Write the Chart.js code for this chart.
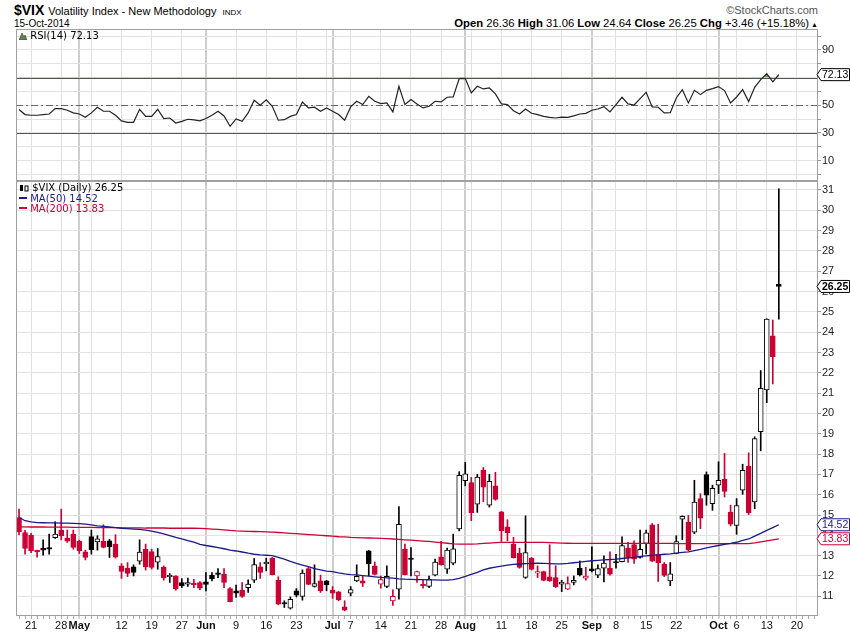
<!DOCTYPE html>
<html>
<head>
<meta charset="utf-8">
<script src="https://cdn.jsdelivr.net/npm/chart.js@4.4.1/dist/chart.umd.min.js"></script>
<style>
  body { margin: 0; background: #fff; width: 850px; height: 633px; overflow: hidden; position: relative; font-family: 'Liberation Sans', sans-serif; }
  .abs { position: absolute; white-space: nowrap; }
  canvas { position: absolute; left: 0; }
  .legend { font: 10px 'DejaVu Sans', sans-serif; line-height: 10.5px; }
</style>
</head>
<body>
<div class="abs" style="left:14px;top:2px;font-size:14px;font-weight:bold;">$VIX <span style="font-weight:normal;font-size:11px;">Volatility Index - New Methodology&nbsp; <span style="font-size:8px;">INDX</span></span></div>
<div class="abs" style="left:14px;top:18px;font-size:10px;">15-Oct-2014</div>
<div class="abs" style="right:32px;top:4px;font-size:11px;color:#555;">&copy;StockCharts.com</div>
<div class="abs" style="right:32px;top:17px;font-size:11.3px;"><b>Open</b> 26.36 <b>High</b> 31.06 <b>Low</b> 24.64 <b>Close</b> 26.25 <b>Chg</b> +3.46 (+15.18%)<span style="font-size:7px;"> &#9650;</span></div>

<canvas id="rsiChart" width="850" height="152" style="top:29px;"></canvas>
<canvas id="priceChart" width="850" height="452" style="top:181px;"></canvas>

<div class="abs legend" style="left:19px;top:31px;"><svg width="8" height="8" style="vertical-align:-1px"><polygon points="0,8 3,1 5,5 6,3 8,8" fill="#5a8a4a" stroke="#333" stroke-width="0.6"/></svg> RSI(14) 72.13</div>
<div class="abs legend" style="left:19px;top:183px;"><svg width="10" height="8" style="vertical-align:-1px"><rect x="1" y="1" width="3" height="6" fill="#000"/><rect x="6" y="2" width="3" height="5" fill="#fff" stroke="#000" stroke-width="1"/></svg> $VIX (Daily) 26.25</div>
<div class="abs legend" style="left:19px;top:194px;color:#1a1a8a;"><span style="display:inline-block;width:8px;height:2px;background:#1a1a8a;vertical-align:3px"></span> MA(50) 14.52</div>
<div class="abs legend" style="left:19px;top:204px;color:#cc0033;"><span style="display:inline-block;width:8px;height:2px;background:#cc0033;vertical-align:3px"></span> MA(200) 13.83</div>

<script>
// trading days 16-Apr-2014 .. 15-Oct-2014, then empty days to the right edge
const dates = [
  '4/16','4/17',
  '4/21','4/22','4/23','4/24','4/25',
  '4/28','4/29','4/30','5/1','5/2',
  '5/5','5/6','5/7','5/8','5/9',
  '5/12','5/13','5/14','5/15','5/16',
  '5/19','5/20','5/21','5/22','5/23',
  '5/27','5/28','5/29','5/30',
  '6/2','6/3','6/4','6/5','6/6',
  '6/9','6/10','6/11','6/12','6/13',
  '6/16','6/17','6/18','6/19','6/20',
  '6/23','6/24','6/25','6/26','6/27',
  '6/30','7/1','7/2','7/3',
  '7/7','7/8','7/9','7/10','7/11',
  '7/14','7/15','7/16','7/17','7/18',
  '7/21','7/22','7/23','7/24','7/25',
  '7/28','7/29','7/30','7/31','8/1',
  '8/4','8/5','8/6','8/7','8/8',
  '8/11','8/12','8/13','8/14','8/15',
  '8/18','8/19','8/20','8/21','8/22',
  '8/25','8/26','8/27','8/28','8/29',
  '9/2','9/3','9/4','9/5',
  '9/8','9/9','9/10','9/11','9/12',
  '9/15','9/16','9/17','9/18','9/19',
  '9/22','9/23','9/24','9/25','9/26',
  '9/29','9/30','10/1','10/2','10/3',
  '10/6','10/7','10/8','10/9','10/10',
  '10/13','10/14','10/15',
  '10/16','10/17','10/20','10/21','10/22','10/23'
];

const prevClose = 15.61;

const opens = [
  14.88, 14.14,
  14.00, 13.25, 13.37, 13.39, 13.89,
  14.26, 13.86, 14.06, 13.70, 13.19,
  13.94, 13.68, 13.70, 13.73, 13.57,
  12.50, 12.38, 12.45, 12.73, 13.32,
  13.20, 12.68, 12.42, 11.96, 12.00,
  11.68, 11.60, 11.64, 11.68,
  11.71, 12.04, 12.14, 12.09, 11.38,
  11.27, 11.30, 11.43, 11.79, 12.45,
  12.60, 12.88, 11.79, 10.68, 10.41,
  11.27, 10.99, 12.37, 11.48, 11.76,
  11.76, 11.30, 11.22, 10.48,
  11.15, 11.76, 11.76, 13.24, 12.50,
  11.60, 11.48, 10.77, 11.35, 13.32,
  12.88, 12.00, 11.56, 11.48, 12.04,
  12.94, 12.34, 12.63, 14.31, 16.69,
  16.60, 15.54, 17.21, 15.49, 16.44,
  15.16, 14.42, 13.57, 13.11, 11.93,
  12.88, 12.14, 12.22, 11.96, 11.92,
  11.60, 11.35, 11.68, 12.38, 11.89,
  12.35, 12.04, 12.38, 12.38,
  12.70, 12.71, 13.37, 13.54, 12.91,
  13.60, 14.52, 13.07, 12.58, 11.76,
  13.11, 14.80, 14.65, 14.16, 15.81,
  16.99, 15.56, 16.47, 16.76, 15.15,
  14.49, 16.22, 17.40, 15.64, 19.10,
  21.16, 23.82, 26.36
];
const highs = [
  15.29, 14.25,
  14.10, 13.28, 13.78, 14.06, 14.67,
  15.29, 14.26, 14.26, 13.76, 13.27,
  14.26, 13.98, 14.52, 13.80, 14.03,
  12.61, 12.66, 12.55, 13.78, 13.57,
  13.32, 13.35, 12.50, 12.12, 12.02,
  11.87, 11.90, 11.84, 11.72,
  12.17, 12.17, 12.37, 12.37, 11.43,
  11.55, 11.68, 11.81, 12.86, 12.66,
  12.88, 12.91, 11.96, 10.78, 10.97,
  11.38, 12.30, 12.42, 12.55, 12.04,
  11.78, 11.48, 11.24, 10.78,
  11.48, 12.55, 12.00, 13.26, 12.69,
  12.00, 12.50, 11.32, 15.41, 13.57,
  13.40, 12.24, 11.84, 12.00, 12.83,
  13.70, 13.37, 14.06, 17.13, 17.59,
  16.85, 17.00, 17.34, 17.00, 17.10,
  15.18, 14.77, 13.90, 13.37, 14.96,
  12.91, 12.50, 12.24, 13.54, 12.50,
  11.79, 11.96, 12.00, 12.74, 12.42,
  13.43, 12.55, 12.99, 13.19,
  13.07, 13.93, 13.65, 13.73, 14.26,
  14.26, 14.58, 14.55, 12.66, 12.66,
  13.98, 14.96, 14.98, 16.71, 16.05,
  17.12, 16.47, 17.62, 18.03, 15.48,
  15.81, 17.50, 18.06, 18.85, 22.11,
  24.66, 24.60, 31.06
];
const lows = [
  14.03, 13.07,
  13.15, 12.92, 13.02, 13.07, 13.85,
  13.78, 13.65, 13.32, 13.11, 12.79,
  13.07, 13.27, 13.38, 12.91, 12.88,
  11.88, 11.97, 12.00, 12.58, 12.29,
  12.34, 12.33, 11.79, 11.68, 11.30,
  11.43, 11.48, 11.43, 11.33,
  11.27, 11.76, 11.92, 11.43, 10.72,
  10.94, 10.94, 11.19, 11.68, 11.88,
  12.25, 12.05, 10.58, 10.45, 10.37,
  10.97, 10.81, 11.57, 11.45, 11.19,
  11.27, 10.90, 10.78, 10.28,
  11.02, 11.72, 11.48, 12.00, 12.05,
  11.40, 11.43, 10.55, 10.86, 12.05,
  12.00, 11.68, 11.40, 11.43, 12.00,
  12.53, 12.13, 12.55, 14.22, 16.44,
  14.72, 15.13, 15.66, 15.39, 15.73,
  13.70, 13.73, 12.88, 12.38, 11.88,
  12.29, 11.92, 11.76, 11.73, 11.43,
  11.23, 11.33, 11.56, 12.00, 11.79,
  12.20, 11.92, 11.71, 12.04,
  12.38, 12.69, 12.67, 12.62, 12.88,
  13.08, 12.71, 11.73, 11.97, 11.52,
  13.09, 13.78, 13.25, 14.08, 14.33,
  15.48, 15.23, 16.05, 15.89, 14.46,
  14.05, 16.02, 15.02, 15.31, 18.16,
  20.53, 21.45, 24.64
];
const closes = [
  14.18, 13.36,
  13.25, 13.19, 13.27, 13.32, 14.06,
  13.97, 13.71, 13.41, 13.25, 12.91,
  13.29, 13.83, 13.40, 13.43, 12.92,
  12.23, 12.13, 12.17, 13.17, 12.44,
  12.42, 12.96, 11.91, 12.03, 11.36,
  11.51, 11.68, 11.57, 11.40,
  11.58, 11.87, 12.08, 11.68, 10.73,
  11.15, 10.99, 11.60, 12.56, 12.18,
  12.68, 12.06, 10.61, 10.62, 10.85,
  11.05, 12.14, 11.59, 11.63, 11.26,
  11.57, 11.15, 10.82, 10.32,
  11.33, 11.98, 11.65, 12.59, 12.08,
  11.82, 11.98, 11.00, 14.54, 12.06,
  12.81, 12.22, 11.52, 11.84, 12.69,
  12.56, 13.28, 13.33, 16.95, 17.03,
  15.12, 16.87, 16.37, 16.66, 15.77,
  14.23, 14.13, 12.90, 12.42, 13.15,
  12.32, 12.21, 11.78, 11.76, 11.47,
  11.70, 11.63, 11.79, 12.05, 11.99,
  12.25, 12.36, 12.64, 12.09,
  12.64, 13.50, 12.88, 12.83, 13.31,
  14.12, 12.73, 12.65, 12.03, 12.11,
  13.69, 14.93, 13.27, 15.64, 14.85,
  15.98, 16.31, 16.71, 16.16, 14.55,
  15.46, 17.20, 15.11, 18.76, 21.24,
  24.64, 22.79, 26.25
];

const ma50 = [
  14.88, 14.72,
  14.66, 14.63, 14.62, 14.61, 14.61,
  14.60, 14.60, 14.59, 14.58, 14.55,
  14.51, 14.47, 14.44, 14.41, 14.38,
  14.35, 14.33, 14.31, 14.29, 14.26,
  14.21, 14.15, 14.07, 13.99, 13.90,
  13.82, 13.74, 13.67, 13.56,
  13.50, 13.45, 13.40, 13.34, 13.27,
  13.23, 13.18, 13.12, 13.07, 13.04,
  13.02, 13.00, 12.92, 12.83, 12.72,
  12.62, 12.54, 12.46, 12.36, 12.30,
  12.24, 12.21, 12.15, 12.10,
  12.07, 12.05, 12.02, 11.99, 11.96,
  11.93, 11.91, 11.89, 11.86, 11.84,
  11.83, 11.82, 11.82, 11.81, 11.81,
  11.80, 11.80, 11.82, 11.88, 11.98,
  12.08, 12.18, 12.30, 12.38, 12.44,
  12.49, 12.53, 12.57, 12.59, 12.61,
  12.62, 12.63, 12.62, 12.61, 12.60,
  12.60, 12.62, 12.65, 12.68, 12.72,
  12.75, 12.77, 12.79, 12.81,
  12.83, 12.86, 12.89, 12.92, 12.96,
  12.99, 13.02, 13.04, 13.07, 13.09,
  13.12, 13.16, 13.19, 13.25, 13.31,
  13.38, 13.44, 13.50, 13.55, 13.60,
  13.66, 13.75, 13.82, 13.96, 14.10,
  14.24, 14.38, 14.52
];
const ma200 = [
  14.42, 14.42,
  14.41, 14.41, 14.41, 14.40, 14.40,
  14.40, 14.40, 14.39, 14.39, 14.39,
  14.39, 14.38, 14.38, 14.38, 14.38,
  14.37, 14.37, 14.37, 14.37, 14.36,
  14.36, 14.36, 14.36, 14.35, 14.35,
  14.35, 14.35, 14.35, 14.34,
  14.33, 14.31, 14.29, 14.27, 14.24,
  14.22, 14.21, 14.20, 14.19, 14.18,
  14.17, 14.16, 14.14, 14.12, 14.10,
  14.08, 14.06, 14.04, 14.02, 14.00,
  13.98, 13.96, 13.93, 13.92,
  13.90, 13.89, 13.88, 13.87, 13.86,
  13.85, 13.84, 13.82, 13.80, 13.78,
  13.76, 13.74, 13.72, 13.70, 13.67,
  13.64, 13.61, 13.58, 13.57, 13.57,
  13.57, 13.58, 13.60, 13.62, 13.64,
  13.65, 13.65, 13.65, 13.65, 13.65,
  13.65, 13.65, 13.65, 13.64, 13.63,
  13.62, 13.61, 13.60, 13.60, 13.60,
  13.60, 13.60, 13.60, 13.60,
  13.60, 13.60, 13.60, 13.60, 13.60,
  13.60, 13.60, 13.60, 13.60, 13.60,
  13.59, 13.59, 13.59, 13.59, 13.59,
  13.59, 13.59, 13.59, 13.59, 13.59,
  13.59, 13.59, 13.59, 13.63, 13.68,
  13.73, 13.78, 13.83
];

const rsi = [
  46.9, 43.3,
  42.8, 42.8, 43.3, 43.7, 47.6,
  47.6, 46.4, 44.5, 43.7, 41.3,
  44.5, 48.6, 45.7, 45.7, 42.8,
  38.7, 37.7, 37.7, 47.1, 42.0,
  42.0, 47.1, 40.4, 40.8, 37.2,
  38.4, 39.9, 39.4, 38.7,
  40.4, 42.8, 45.7, 42.3, 34.8,
  40.1, 38.4, 44.5, 53.6, 50.0,
  53.9, 49.3, 39.2, 39.6, 42.0,
  43.3, 52.4, 48.1, 48.6, 45.7,
  48.1, 45.7, 43.3, 39.2,
  48.8, 52.9, 50.5, 56.5, 52.9,
  51.2, 51.7, 45.2, 63.7, 50.5,
  54.1, 51.0, 48.1, 49.3, 52.9,
  52.4, 55.8, 56.0, 69.3, 69.5,
  58.9, 63.7, 61.8, 62.5, 58.2,
  51.0, 50.5, 46.1, 43.7, 47.3,
  44.2, 43.3, 42.0, 41.3, 40.8,
  41.5, 41.3, 42.3, 43.7, 44.2,
  46.4, 47.3, 49.0, 45.2,
  50.5, 55.8, 51.0, 50.2, 54.8,
  59.4, 48.8, 48.6, 44.5, 44.7,
  55.3, 61.3, 51.7, 60.8, 57.7,
  60.8, 62.0, 63.5, 60.6, 51.7,
  56.0, 61.3, 52.7, 63.0, 68.6,
  72.9, 66.9, 72.13
];

// axis decoration
const weekLines = ['4/21','4/28','5/5','5/12','5/19','5/27','6/2','6/9','6/16','6/23','6/30',
  '7/7','7/14','7/21','7/28','8/4','8/11','8/18','8/25','9/2','9/8','9/15','9/22','9/29',
  '10/6','10/13','10/20'];
const monthLines = ['5/1','6/2','7/1','8/1','9/2','10/1'];
const tickDates = ['4/21','4/28','5/1','5/12','5/19','5/27','6/2','6/9','6/16','6/23','7/1','7/7',
  '7/14','7/21','7/28','8/1','8/11','8/18','8/25','9/2','9/8','9/15','9/22','10/1','10/6','10/13','10/20'];
const tickTexts = ['21','28','May','12','19','27','Jun','9','16','23','Jul','7',
  '14','21','28','Aug','11','18','25','Sep','8','15','22','Oct','6','13','20'];
const priceTicks = [11,12,13,14,15,16,17,18,19,20,21,22,23,24,25,26,27,28,29,30,31];
const rsiGrid = [0,10,20,30,40,50,60,70,80,90,100];
const rsiLabels = [10,30,50,70,90];

const RED = '#cc0033';
const NAVY = '#1a1a8a';

Chart.defaults.font.family = "'Liberation Sans', sans-serif";
Chart.defaults.animation = false;

const upDay = closes.map((c, i) => c >= (i ? closes[i - 1] : prevClose));
const candleColor = upDay.map(u => u ? '#000000' : RED);
const hollow = closes.map((c, i) => c > opens[i]);

function xGridColor(ctx) {
  const d = dates[ctx.index];
  if (monthLines.includes(d)) return '#cdcdcd';
  if (weekLines.includes(d)) return '#e0e0e0';
  return 'rgba(0,0,0,0)';
}
function xGridWidth(ctx) {
  return monthLines.includes(dates[ctx.index]) ? 2 : 1;
}

function fixAxisPadding(s) {
  s.paddingTop = 0; s.paddingBottom = 0; s.paddingLeft = 0; s.paddingRight = 0;
}

// value tag on the right axis: pointed left edge, box to the canvas edge
function drawTag(ctx, x, y, text, color, bold) {
  ctx.save();
  ctx.beginPath();
  ctx.moveTo(x - 1, y);
  ctx.lineTo(x + 3, y - 6);
  ctx.lineTo(849.5, y - 6);
  ctx.lineTo(849.5, y + 6);
  ctx.lineTo(x + 3, y + 6);
  ctx.closePath();
  ctx.fillStyle = '#fff';
  ctx.fill();
  ctx.strokeStyle = color;
  ctx.lineWidth = 1;
  ctx.stroke();
  ctx.fillStyle = color;
  ctx.font = (bold ? 'bold ' : '') + "10.5px 'Liberation Sans'";
  ctx.textBaseline = 'middle';
  ctx.fillText(text, x + 4, y + 0.5);
  ctx.restore();
}

function drawFrame(chart) {
  const a = chart.chartArea, ctx = chart.ctx;
  ctx.save();
  ctx.strokeStyle = '#a0a0a0';
  ctx.lineWidth = 1;
  ctx.strokeRect(Math.round(a.left) + 0.5, Math.round(a.top) + 0.5,
    Math.round(a.right - a.left) - 1, Math.round(a.bottom - a.top) - 1);
  ctx.restore();
}

const xAxisBase = {
  type: 'category',
  offset: true,
  grid: { offset: false, color: xGridColor, lineWidth: xGridWidth },
  border: { display: false }
};

// ---------------- RSI panel ----------------
new Chart(document.getElementById('rsiChart'), {
  type: 'line',
  data: {
    labels: dates,
    datasets: [{
      data: rsi,
      borderColor: '#222',
      borderWidth: 1.2,
      pointRadius: 0,
      tension: 0,
      fill: { target: { value: 70 }, above: '#6a9a5a', below: 'rgba(0,0,0,0)' }
    }]
  },
  options: {
    responsive: false,
    events: [],
    layout: { padding: { left: 16, right: 0, top: 0, bottom: 0 } },
    plugins: { legend: { display: false }, tooltip: { enabled: false } },
    scales: {
      x: Object.assign({}, xAxisBase, {
        grid: Object.assign({}, xAxisBase.grid, { drawTicks: false }),
        ticks: { display: false, autoSkip: false },
        afterFit: s => { s.height = 0; fixAxisPadding(s); }
      }),
      y: {
        position: 'right',
        min: -4.7,
        max: 105.1,
        grid: { color: '#e2e2e2', tickLength: 3, tickColor: '#999' },
        border: { display: false },
        ticks: {
          autoSkip: false,
          padding: 1,
          color: '#222',
          font: { size: 11 },
          callback: v => rsiLabels.includes(v) ? String(v) : ''
        },
        afterBuildTicks: s => { s.ticks = rsiGrid.map(v => ({ value: v })); },
        afterFit: s => { s.width = 32; fixAxisPadding(s); }
      }
    }
  },
  plugins: [{
    id: 'rsiDecor',
    beforeDatasetsDraw(chart) {
      const { ctx, chartArea: a, scales: { y } } = chart;
      ctx.save();
      [70, 30].forEach(v => {
        const py = Math.round(y.getPixelForValue(v)) + 0.5;
        ctx.strokeStyle = '#555';
        ctx.lineWidth = 1;
        ctx.beginPath(); ctx.moveTo(a.left, py); ctx.lineTo(a.right, py); ctx.stroke();
      });
      const p50 = Math.round(y.getPixelForValue(50)) + 0.5;
      ctx.strokeStyle = '#666';
      ctx.setLineDash([7, 3, 2, 3]);
      ctx.beginPath(); ctx.moveTo(a.left, p50); ctx.lineTo(a.right, p50); ctx.stroke();
      ctx.restore();
    },
    afterDraw(chart) {
      drawFrame(chart);
      const y = chart.scales.y;
      const last = rsi[rsi.length - 1];
      drawTag(chart.ctx, chart.chartArea.right, y.getPixelForValue(last), last.toFixed(2), '#000', false);
    }
  }]
});

// ---------------- Price panel ----------------
new Chart(document.getElementById('priceChart'), {
  type: 'bar',
  data: {
    labels: dates,
    datasets: [
      {
        type: 'line',
        data: ma50,
        borderColor: NAVY,
        borderWidth: 1.3,
        pointRadius: 0,
        tension: 0,
        order: 0
      },
      {
        type: 'line',
        data: ma200,
        borderColor: RED,
        borderWidth: 1.3,
        pointRadius: 0,
        tension: 0,
        order: 0
      },
      {
        // candle bodies
        data: opens.map((o, i) => [Math.min(o, closes[i]), Math.max(o, closes[i])]),
        backgroundColor: hollow.map((h, i) => h ? '#ffffff' : candleColor[i]),
        borderColor: candleColor,
        borderWidth: 1,
        borderSkipped: false,
        barThickness: 5,
        minBarLength: 1.5,
        grouped: false,
        order: 1
      },
      {
        // wicks
        data: lows.map((l, i) => [l, highs[i]]),
        backgroundColor: candleColor,
        borderWidth: 0,
        barThickness: 1,
        grouped: false,
        order: 2
      }
    ]
  },
  options: {
    responsive: false,
    events: [],
    layout: { padding: { left: 16, right: 0, top: 0, bottom: 0 } },
    plugins: { legend: { display: false }, tooltip: { enabled: false } },
    scales: {
      x: Object.assign({}, xAxisBase, {
        grid: Object.assign({}, xAxisBase.grid, { drawTicks: true, tickLength: 3, tickColor: '#aaa', tickWidth: 1 }),
        ticks: {
          autoSkip: false,
          maxRotation: 0,
          minRotation: 0,
          padding: 0,
          color: '#111',
          font: ctx => {
            const t = tickTexts[tickDates.indexOf(dates[ctx.index])];
            return { size: 11, weight: /^[A-Z]/.test(t || '') ? 'bold' : 'normal' };
          },
          callback: (v, i) => {
            const k = tickDates.indexOf(dates[i]);
            return k >= 0 ? tickTexts[k] : '';
          }
        },
        afterFit: s => { s.height = 17; fixAxisPadding(s); }
      }),
      y: {
        position: 'right',
        min: 10.03,
        max: 31.44,
        grid: { color: '#e2e2e2', tickLength: 3, tickColor: '#999' },
        border: { display: false },
        ticks: { autoSkip: false, padding: 1, color: '#222', font: { size: 11 } },
        afterBuildTicks: s => { s.ticks = priceTicks.map(v => ({ value: v })); },
        afterFit: s => { s.width = 32; fixAxisPadding(s); }
      }
    }
  },
  plugins: [{
    id: 'priceDecor',
    afterDraw(chart) {
      drawFrame(chart);
      const y = chart.scales.y, x0 = chart.chartArea.right, ctx = chart.ctx;
      const c = closes[closes.length - 1];
      const m50 = ma50[ma50.length - 1];
      const m200 = ma200[ma200.length - 1];
      drawTag(ctx, x0, y.getPixelForValue(m50), m50.toFixed(2), NAVY, false);
      drawTag(ctx, x0, y.getPixelForValue(m200), m200.toFixed(2), RED, false);
      drawTag(ctx, x0, y.getPixelForValue(c), c.toFixed(2), '#000', true);
    }
  }]
});
</script>
</body>
</html>
